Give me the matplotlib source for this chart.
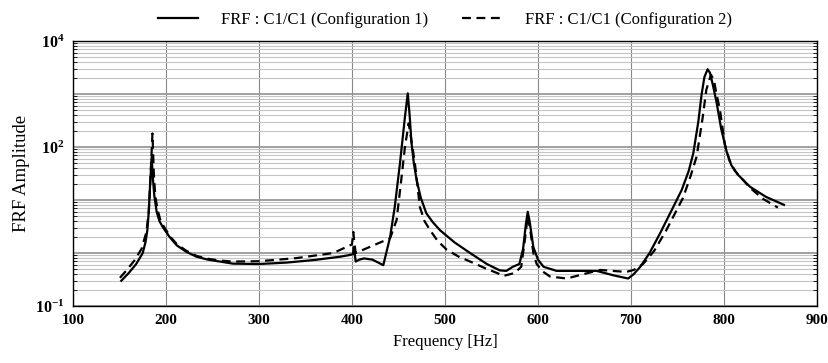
import matplotlib
matplotlib.use('Agg')
import matplotlib.pyplot as plt
from matplotlib.ticker import LogLocator, FixedLocator, NullFormatter

plt.rcParams['font.family'] = ['Liberation Serif', 'DejaVu Serif']
plt.rcParams['mathtext.fontset'] = 'custom'
plt.rcParams['mathtext.rm'] = 'Liberation Serif'
plt.rcParams['mathtext.bf'] = 'Liberation Serif:bold'

# Configuration 1 (solid)
freq1 = [152, 160, 168, 175, 178, 180, 181.5, 183, 184.6, 186, 187.5, 190, 193, 197, 204,
         211.5, 222, 233, 245, 258, 272, 300, 330, 360, 387, 398, 401, 402, 404, 408,
         413, 422, 433.7, 441, 446, 451.6, 457, 460, 462, 464, 466.5, 469.5, 474, 480, 487,
         494.6, 510, 527, 545, 559, 566, 573, 580, 584, 587, 589, 591, 595, 600, 606,
         620, 640, 663, 681, 697, 703, 710, 720, 731, 745.5, 754.5, 762, 767, 772.4, 776,
         779, 782.4, 785, 788, 792, 797, 803, 808, 815, 828, 845, 864.5]
amp1 = [0.30, 0.42, 0.62, 1.0, 1.6, 2.7, 6, 20, 65, 25, 12, 6, 4, 3.0, 2.0,
        1.4, 1.05, 0.85, 0.75, 0.69, 0.63, 0.62, 0.66, 0.74, 0.85, 0.92, 0.95, 1.3, 0.69, 0.75,
        0.79, 0.75, 0.59, 2.0, 7.4, 49, 375, 1030, 400, 120, 50, 24, 11, 5.6, 3.8,
        2.7, 1.6, 1.0, 0.62, 0.47, 0.46, 0.55, 0.62, 1.2, 3.5, 6.0, 4.0, 1.3, 0.75, 0.55,
        0.46, 0.46, 0.46, 0.38, 0.33, 0.40, 0.55, 1.0, 2.3, 7.4, 15.4, 35, 76, 300, 1000,
        2100, 2930, 2500, 1500, 700, 220, 80, 45, 30, 17.8, 11.5, 8.1]

# Configuration 2 (dashed)
freq2 = [150.5, 158, 166, 173.8, 179, 181.5, 183, 185.5, 187, 188.5, 191, 194, 198, 205, 212,
         222, 233, 245, 258, 272, 300, 340, 380, 394, 400, 401.5, 402.5, 404, 419, 441,
         448, 453, 457, 461, 464, 467.7, 470.5, 473, 478, 484, 492, 502, 515, 530.5, 545,
         556, 563, 575, 582, 586, 589, 592, 595, 598.6, 605, 613, 631, 649, 667, 680,
         695, 703, 713, 725, 738, 756, 764, 770.6, 777, 781, 786, 789, 791.5, 795.7, 801,
         806, 812, 828, 842, 858]
amp2 = [0.34, 0.48, 0.72, 1.2, 2.5, 6, 20, 180, 30, 12, 6.5, 4.2, 3.1, 2.0, 1.45,
        1.1, 0.88, 0.78, 0.72, 0.69, 0.70, 0.80, 1.0, 1.3, 1.45, 2.5, 1.6, 1.0, 1.3, 1.9,
        4.2, 24, 102, 280, 130, 49, 18, 7.4, 4.0, 2.7, 1.7, 1.15, 0.85, 0.65, 0.5,
        0.42, 0.37, 0.42, 0.55, 1.8, 5.0, 2.5, 1.0, 0.62, 0.45, 0.36, 0.33, 0.40, 0.48, 0.46,
        0.44, 0.48, 0.62, 1.1, 2.7, 11, 28, 66, 350, 1200, 2300, 1900, 1100, 500, 110,
        55, 35, 17, 10.5, 7.2]

xTicks = [100, 200, 300, 400, 500, 600, 700, 800, 900]
yDecades = [0.1, 1, 10, 100, 1000, 10000]
yLabels = {0.1: r'$\mathbf{10^{-1}}$', 100: r'$\mathbf{10^{2}}$', 10000: r'$\mathbf{10^{4}}$'}

fig = plt.figure(figsize=(8.29, 3.63), dpi=100)
ax = fig.add_axes([0.088, 0.157, 0.8975, 0.73])

ax.plot(freq1, amp1, color='black', linewidth=1.6, linestyle='-',
        label='FRF : C1/C1 (Configuration 1)')
ax.plot(freq2, amp2, color='black', linewidth=1.6, linestyle=(0, (4, 2.5)),
        label='FRF : C1/C1 (Configuration 2)')

ax.set_yscale('log')
ax.set_xlim(100, 900)
ax.set_ylim(0.1, 10000)

ax.set_xticks(xTicks)
ax.set_xticklabels([str(t) for t in xTicks], fontweight='bold', fontsize=11)
ax.yaxis.set_major_locator(FixedLocator(yDecades))
ax.set_yticklabels([yLabels.get(d, '') for d in yDecades], fontsize=11.5)
ax.yaxis.set_minor_locator(LogLocator(base=10, subs=range(2, 10), numticks=20))
ax.yaxis.set_minor_formatter(NullFormatter())

ax.tick_params(axis='both', which='both', direction='in', right=True, length=3, width=0.6)
ax.tick_params(axis='x', length=0, pad=6)
ax.tick_params(axis='y', which='major', length=0, pad=6)

ax.grid(axis='x', which='major', color='#888888', linewidth=0.8)
ax.grid(axis='y', which='major', color='#999999', linewidth=1.3)
ax.grid(axis='y', which='minor', color='#c4c4c4', linewidth=0.8)
ax.set_axisbelow(True)

for s in ax.spines.values():
    s.set_linewidth(1.0)
    s.set_color('black')

ax.set_xlabel('Frequency [Hz]', fontsize=12, labelpad=5)
ax.set_ylabel('FRF Amplitude', fontsize=13.5, labelpad=4)

ax.legend(loc='lower center', bbox_to_anchor=(0.5, 1.025), ncol=2, frameon=False,
          fontsize=12, handlelength=2.4, handletextpad=1.4, columnspacing=2.0,
          borderaxespad=0)

plt.savefig('out.png', dpi=100)
plt.close()
